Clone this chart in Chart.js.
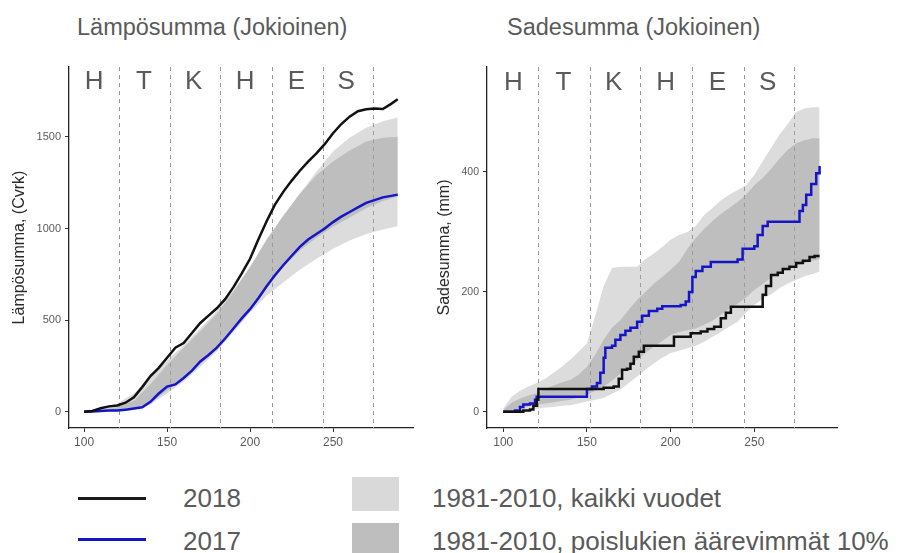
<!DOCTYPE html>
<html lang="fi">
<head>
<meta charset="UTF-8">
<title>Lämpösumma ja sadesumma (Jokioinen)</title>
<script src="https://cdn.jsdelivr.net/npm/chart.js@4.4.1/dist/chart.umd.min.js"></script>
<style>
  body { margin: 0; background: #fff; font-family: "Liberation Sans", Arial, sans-serif; }
  #wrap { position: relative; width: 901px; height: 553px; overflow: hidden; }
  canvas { position: absolute; top: 50px; }
  .title { position: absolute; top: 15px; font-size: 23.5px; line-height: 24px; color: #5a5a5a; white-space: nowrap; }
  .lg { position: absolute; font-size: 26px; line-height: 26px; color: #5a5a5a; white-space: nowrap; }
  .ln { position: absolute; left: 78px; width: 68px; height: 3px; }
  .sq { position: absolute; left: 352px; width: 47px; height: 34px; }
</style>
</head>
<body>
<div id="wrap">
  <div class="title" style="left:77px">Lämpösumma (Jokioinen)</div>
  <div class="title" style="left:507px">Sadesumma (Jokioinen)</div>
  <canvas id="heat" width="430" height="410" style="left:0"></canvas>
  <canvas id="rain" width="450" height="410" style="left:430px"></canvas>

  <div class="ln" style="top:497px;background:#1a1a1a"></div>
  <div class="ln" style="top:538px;background:#1515c8"></div>
  <div class="lg" style="left:183px;top:485px">2018</div>
  <div class="lg" style="left:183px;top:528px">2017</div>
  <div class="sq" style="top:477px;background:#d9d9d9"></div>
  <div class="sq" style="top:523px;background:#bebebe"></div>
  <div class="lg" style="left:432px;top:485px">1981-2010, kaikki vuodet</div>
  <div class="lg" style="left:432px;top:528px">1981-2010, poislukien äärevimmät 10%</div>
</div>
<script>
// month boundaries (day of year) and month initials
const monthStarts = [121, 152, 182, 213, 244, 274];
const monthLetters = ["H", "T", "K", "H", "E", "S"];
const letterDays = [106, 136, 166, 197, 228, 258];
const xTicks = [100, 150, 200, 250];

// Lämpösumma (Cvrk)
const heatDays = [100,105,110,115,120,125,130,135,140,145,150,155,160,165,170,175,180,185,190,195,
                  200,205,210,215,220,225,230,235,240,245,250,255,260,265,270,275,280,285,289];
const heat2018 = [0,5,20,30,35,50,80,135,195,240,295,350,375,430,485,525,565,615,680,755,
                  835,940,1040,1130,1200,1260,1315,1365,1410,1460,1520,1570,1610,1640,1650,1655,1652,1680,1705];
const heat2017 = [0,2,5,7,7,12,18,25,55,100,138,150,185,225,275,310,350,400,455,510,
                  560,620,685,745,800,850,900,940,970,1000,1035,1065,1090,1115,1140,1155,1170,1178,1185];
const heatBandDays = [100,110,120,130,140,150,160,170,180,190,200,210,220,230,240,250,260,270,280,289];
const heatAllHi = [0,20,45,100,185,280,365,455,550,665,790,925,1060,1190,1310,1420,1495,1550,1585,1605];
const heatAllLo = [0,0,3,10,40,100,165,245,330,435,540,635,705,775,835,890,935,970,995,1012];
const heatMidHi = [0,10,25,60,150,255,350,440,535,655,790,940,1070,1190,1290,1365,1425,1475,1495,1500];
const heatMidLo = [0,5,8,20,50,115,180,260,345,450,560,680,790,880,950,1010,1060,1110,1150,1175];
const heatTicks = [0, 500, 1000, 1500];

// Sadesumma (mm)
const rain2018Days = [100,108,112,116,118,120,121,152,160,166,169,171,174,176,178,181,184,201,202,212,
                      218,222,226,230,233,236,253,255,257,260,264,267,271,275,279,283,286,289];
const rain2018 = [0,0,2,4,10,20,38,38,40,42,55,70,72,80,92,100,110,110,125,131,
                  134,138,142,156,165,175,175,195,210,228,232,238,242,248,252,258,260,260];
const rain2017Days = [100,107,110,112,116,119,120,149,150,153,156,158,160,161,165,167,170,173,176,180,
                      183,187,192,195,206,209,211,213,215,219,224,240,243,250,252,255,258,275,277,279,
                      281,284,287,289];
const rain2017 = [0,2,8,12,14,20,25,25,38,42,48,65,90,107,110,120,128,135,140,150,
                  160,168,172,176,178,184,200,225,235,242,250,254,272,276,295,310,317,317,335,345,
                  362,380,398,410];
const rainBandDays = heatDays;
const rainAllHi = [5,25,35,42,48,55,65,75,87,100,114,160,210,240,242,242,242,255,264,275,
                   287,295,300,310,328,340,353,362,370,378,395,418,440,462,480,500,506,508,508];
const rainMidHi = [3,15,22,27,31,38,44,49,53,62,75,95,120,140,153,170,187,200,214,225,
                   237,250,272,290,305,318,330,340,350,362,378,390,405,422,437,448,453,456,456];
const rainMidLo = [0,3,6,9,12,14,16,18,20,24,28,35,42,52,64,75,87,98,109,118,
                   128,133,136,139,145,152,162,172,180,190,203,213,224,232,238,243,248,252,255];
const rainAllLo = [0,1,2,4,5,7,8,10,11,14,17,20,23,30,37,48,59,70,81,90,
                   98,102,106,110,117,125,133,142,150,165,178,188,196,206,214,220,226,230,234];
const rainTicks = [0, 200, 400];

const pts = (xs, ys) => xs.map((x, i) => ({ x: x, y: ys[i] }));
const FONT = '"Liberation Sans", Arial, sans-serif';

// dashed month lines (under the year lines) and month letters
const monthMarks = {
  id: "monthMarks",
  beforeDatasetDraw(chart, args) {
    if (args.index !== 1) return;
    const { ctx, chartArea: a, scales: { x } } = chart;
    ctx.save();
    ctx.strokeStyle = "#9a9a9a";
    ctx.lineWidth = 1;
    ctx.setLineDash([4, 4]);
    monthStarts.forEach(d => {
      const px = Math.round(x.getPixelForValue(d)) + 0.5;
      ctx.beginPath();
      ctx.moveTo(px, a.top);
      ctx.lineTo(px, a.bottom);
      ctx.stroke();
    });
    ctx.restore();
  },
  afterDatasetsDraw(chart, args, opts) {
    const { ctx, scales: { x, y } } = chart;
    ctx.save();
    ctx.fillStyle = "#5a5a5a";
    ctx.font = "26px " + FONT;
    ctx.textAlign = "center";
    ctx.textBaseline = "middle";
    monthLetters.forEach((t, i) => {
      ctx.fillText(t, x.getPixelForValue(letterDays[i]), y.getPixelForValue(opts.letterY));
    });
    ctx.restore();
  }
};

function makeChart(id, o) {
  const stepped = o.stepped || false;
  return new Chart(document.getElementById(id), {
    type: "line",
    data: {
      datasets: [
        { data: o.l2018, borderColor: "#111", borderWidth: 2.5, stepped: stepped },
        { data: o.l2017, borderColor: "#1515c8", borderWidth: 2.5, stepped: stepped },
        { data: o.midLo, borderWidth: 0 },
        { data: o.midHi, borderWidth: 0, fill: "-1", backgroundColor: "#bebebe" },
        { data: o.allLo, borderWidth: 0 },
        { data: o.allHi, borderWidth: 0, fill: "-1", backgroundColor: "#dcdcdc" }
      ]
    },
    options: {
      responsive: false,
      animation: false,
      elements: { point: { radius: 0 }, line: { tension: 0, borderColor: "rgba(0,0,0,0)" } },
      layout: { padding: { left: 0, top: 17, right: o.padRight, bottom: 0 } },
      plugins: {
        legend: { display: false },
        tooltip: { enabled: false },
        monthMarks: { letterY: o.letterY }
      },
      scales: {
        x: {
          type: "linear",
          min: o.xMin, max: o.xMax,
          afterBuildTicks: s => { s.ticks = xTicks.map(v => ({ value: v })); },
          afterFit: s => { s.height = 32; },
          grid: { drawOnChartArea: false, drawTicks: true, tickLength: 4, color: "#333" },
          border: { color: "#222", width: 1.3 },
          ticks: { color: "#5a5a5a", font: { size: 12, family: FONT }, padding: 3, maxRotation: 0,
                   callback: v => String(v) }
        },
        y: {
          min: o.yMin, max: o.yMax,
          afterBuildTicks: s => { s.ticks = o.yTicks.map(v => ({ value: v })); },
          afterFit: s => { s.width = o.yWidth; },
          grid: { drawOnChartArea: false, drawTicks: true, tickLength: 4, color: "#333" },
          border: { color: "#222", width: 1.3 },
          ticks: { color: "#5a5a5a", font: { size: o.yTickSize, family: FONT }, padding: 4,
                   callback: v => String(v) },
          title: {
            display: true, text: o.yTitle, color: "#2b2b2b",
            font: { size: 16, family: FONT },
            padding: { top: o.titlePad, bottom: 0 }
          }
        }
      }
    },
    plugins: [monthMarks]
  });
}

makeChart("heat", {
  l2018: pts(heatDays, heat2018),
  l2017: pts(heatDays, heat2017),
  midLo: pts(heatBandDays, heatMidLo),
  midHi: pts(heatBandDays, heatMidHi),
  allLo: pts(heatBandDays, heatAllLo),
  allHi: pts(heatBandDays, heatAllHi),
  xMin: 90.9, xMax: 298.2, yMin: -88, yMax: 1881,
  yTicks: heatTicks, yTitle: "Lämpösumma, (Cvrk)",
  yWidth: 69, padRight: 17, titlePad: 10, yTickSize: 11, letterY: 1800
});

makeChart("rain", {
  stepped: true,
  l2018: pts(rain2018Days, rain2018),
  l2017: pts(rain2017Days, rain2017),
  midLo: pts(rainBandDays, rainMidLo),
  midHi: pts(rainBandDays, rainMidHi),
  allLo: pts(rainBandDays, rainAllLo),
  allHi: pts(rainBandDays, rainAllHi),
  xMin: 90.3, xMax: 299.4, yMin: -27, yMax: 575,
  yTicks: rainTicks, yTitle: "Sadesumma, (mm)",
  yWidth: 57, padRight: 43, titlePad: 5, yTickSize: 10.5, letterY: 548
});
</script>
</body>
</html>
